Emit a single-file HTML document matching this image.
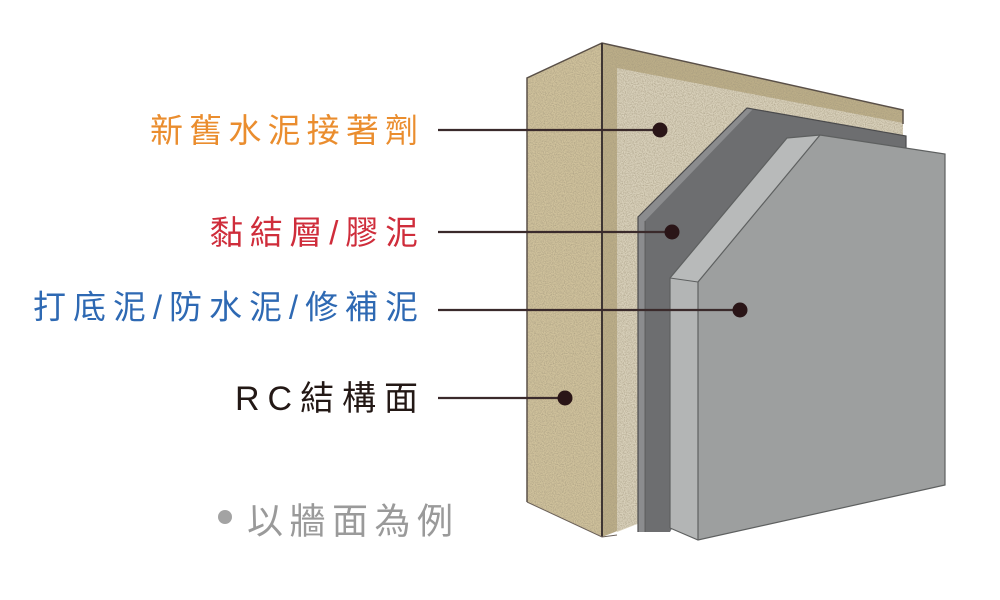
<!DOCTYPE html>
<html><head><meta charset="utf-8"><style>
html,body{margin:0;padding:0;background:#fff;}
svg{display:block;}
text{font-family:"Liberation Sans","Noto Sans CJK TC","Noto Sans CJK SC",sans-serif;}
</style></head><body>
<svg width="1000" height="600" viewBox="0 0 1000 600" xmlns="http://www.w3.org/2000/svg">
<defs>
<filter id="grain" x="0" y="0" width="100%" height="100%">
<feTurbulence type="fractalNoise" baseFrequency="0.9" numOctaves="2" seed="3" result="n"/>
<feColorMatrix in="n" type="matrix" values="0 0 0 0 0.35  0 0 0 0 0.3  0 0 0 0 0.2  0 0 0 1.4 -0.5" result="a"/>
<feComposite in="a" in2="SourceGraphic" operator="in"/>
</filter>
</defs>
<rect width="1000" height="600" fill="#fff"/>

<!-- RC left face -->
<polygon points="527,78 602,43 602,537 527,502" fill="#d0c29c"/>
<!-- RC front face (khaki) -->
<polygon points="602,43 903,110 903,420 602,537" fill="#bcae88"/>
<!-- adhesive layer -->
<polygon points="617,68 903,123 903,420 617,532" fill="#d9d1bb"/>
<!-- grain overlays -->
<g filter="url(#grain)">
<polygon points="527,78 602,43 602,537 527,502" fill="#000"/>
<polygon points="602,43 903,110 903,420 602,537" fill="#000"/>
</g>
<!-- RC outlines -->
<polyline points="527,502 527,78 602,43 903,110 903,124" fill="none" stroke="#5a5048" stroke-width="1.5"/>
<line x1="602" y1="43" x2="602" y2="537" stroke="#3e3533" stroke-width="2"/>
<polyline points="527,502 602,537 617,535" fill="none" stroke="#6a6058" stroke-width="1"/>

<!-- dark grey layer -->
<polygon points="638,217 747,108 906,136 906,150 800,300 670,532 638,532" fill="#6d6e70"/>
<polygon points="638,217 747,108 753,109 645,221 645,532 638,532" fill="#8b8c8e"/>
<polyline points="638,532 638,217 747,108 906,136 906,150" fill="none" stroke="#4a4a4c" stroke-width="1.2"/>
<line x1="645" y1="221" x2="645" y2="532" stroke="#555" stroke-width="0.8"/>

<!-- light grey layer -->
<polygon points="670,278 698,282 698,540 670,528" fill="#b3b5b5"/>
<polygon points="670,278 787,138 820,135 698,282" fill="#b8baba"/>
<polygon points="698,282 820,135 945,154 945,485 698,540" fill="#9d9f9f"/>
<polyline points="670,528 670,278 787,138 820,135 945,154 945,485 698,540 670,528" fill="none" stroke="#5e6060" stroke-width="1.2"/>
<polyline points="698,540 698,282 820,135" fill="none" stroke="#5e6060" stroke-width="1.2"/>
<line x1="670" y1="278" x2="698" y2="282" stroke="#5e6060" stroke-width="1"/>

<!-- connectors -->
<g stroke="#3a2a2b" stroke-width="2.2">
<line x1="438" y1="130" x2="660" y2="130"/>
<line x1="438" y1="232" x2="672" y2="232"/>
<line x1="438" y1="310" x2="740" y2="310"/>
<line x1="438" y1="398" x2="565" y2="398"/>
</g>
<g fill="#2a1517">
<circle cx="660" cy="130" r="7.5"/>
<circle cx="672" cy="232" r="7.5"/>
<circle cx="740" cy="310" r="7.5"/>
<circle cx="565" cy="398" r="7.5"/>
</g>

<!-- labels -->
<text x="150" y="142" font-size="33" fill="#ea8d2e" textLength="268" lengthAdjust="spacing">新舊水泥接著劑</text>
<text x="210" y="244" font-size="33" fill="#cf2d3b" textLength="208" lengthAdjust="spacing">黏結層/膠泥</text>
<text x="33" y="318.5" font-size="33" fill="#2e69b3" textLength="385" lengthAdjust="spacing">打底泥/防水泥/修補泥</text>
<text x="235" y="410" font-size="34" fill="#231815" textLength="183" lengthAdjust="spacing">RC結構面</text>
<circle cx="225" cy="517" r="7" fill="#a3a3a3"/>
<text x="247" y="533.5" font-size="36" fill="#9a9a9a" textLength="206" lengthAdjust="spacing">以牆面為例</text>
</svg>
</body></html>
